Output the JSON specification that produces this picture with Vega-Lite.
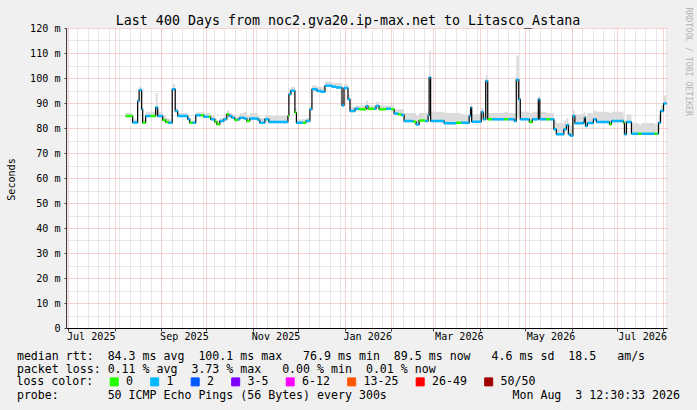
{
  "$schema": "https://vega.github.io/schema/vega-lite/v6.json",
  "width": 601,
  "height": 300,
  "autosize": {"type": "none"},
  "padding": {"left": 66, "top": 28, "right": 30, "bottom": 82},
  "background": "#f0f0f0",
  "data": {
    "format": {"parse": {"date": "date"}},
    "values": [
      {"date": "2025-08-08T05:00", "median": 84.8, "lo": 84.3, "hi": 86.0, "loss": "0"},
      {"date": "2025-08-12T21:00", "median": 82.2, "lo": 81.7, "hi": 83.5, "loss": "1"},
      {"date": "2025-08-16T05:00", "median": 90.8, "lo": 90.3, "hi": 92.0, "loss": "1"},
      {"date": "2025-08-17T05:00", "median": 95.2, "lo": 94.7, "hi": 96.5, "loss": "1"},
      {"date": "2025-08-18T21:00", "median": 87.5, "lo": 86.5, "hi": 89.0, "loss": "1"},
      {"date": "2025-08-19T13:00", "median": 82.1, "lo": 81.6, "hi": 83.5, "loss": "0"},
      {"date": "2025-08-21T13:00", "median": 84.8, "lo": 84.3, "hi": 86.5, "loss": "1"},
      {"date": "2025-08-24T21:00", "median": 84.8, "lo": 84.3, "hi": 86.5, "loss": "0"},
      {"date": "2025-08-28T05:00", "median": 88.2, "lo": 85.0, "hi": 94.0, "loss": "1"},
      {"date": "2025-08-29T13:00", "median": 84.8, "lo": 84.3, "hi": 86.5, "loss": "1"},
      {"date": "2025-09-01T21:00", "median": 83.2, "lo": 82.7, "hi": 85.0, "loss": "0"},
      {"date": "2025-09-03T21:00", "median": 82.4, "lo": 81.9, "hi": 84.0, "loss": "0"},
      {"date": "2025-09-05T21:00", "median": 82.1, "lo": 81.6, "hi": 83.5, "loss": "1"},
      {"date": "2025-09-08T05:00", "median": 95.5, "lo": 95.0, "hi": 97.5, "loss": "1"},
      {"date": "2025-09-10T05:00", "median": 86.8, "lo": 86.0, "hi": 88.0, "loss": "1"},
      {"date": "2025-09-11T21:00", "median": 84.8, "lo": 84.3, "hi": 86.0, "loss": "1"},
      {"date": "2025-09-18T13:00", "median": 83.5, "lo": 83.0, "hi": 84.5, "loss": "1"},
      {"date": "2025-09-19T21:00", "median": 82.1, "lo": 81.6, "hi": 83.0, "loss": "0"},
      {"date": "2025-09-21T21:00", "median": 82.1, "lo": 81.6, "hi": 83.0, "loss": "1"},
      {"date": "2025-09-23T21:00", "median": 85.1, "lo": 84.6, "hi": 86.3, "loss": "1"},
      {"date": "2025-09-27T05:00", "median": 85.1, "lo": 84.6, "hi": 86.3, "loss": "0"},
      {"date": "2025-09-29T05:00", "median": 84.5, "lo": 84.0, "hi": 86.0, "loss": "1"},
      {"date": "2025-10-02T13:00", "median": 84.5, "lo": 84.0, "hi": 86.0, "loss": "0"},
      {"date": "2025-10-03T21:00", "median": 83.5, "lo": 83.0, "hi": 85.0, "loss": "1"},
      {"date": "2025-10-06T13:00", "median": 82.5, "lo": 82.0, "hi": 84.0, "loss": "0"},
      {"date": "2025-10-07T21:00", "median": 81.5, "lo": 81.0, "hi": 83.0, "loss": "0"},
      {"date": "2025-10-09T21:00", "median": 82.8, "lo": 82.3, "hi": 84.0, "loss": "1"},
      {"date": "2025-10-12T13:00", "median": 83.5, "lo": 83.0, "hi": 85.5, "loss": "1"},
      {"date": "2025-10-14T13:00", "median": 85.5, "lo": 85.0, "hi": 87.0, "loss": "0"},
      {"date": "2025-10-15T21:00", "median": 84.8, "lo": 84.3, "hi": 86.0, "loss": "1"},
      {"date": "2025-10-17T21:00", "median": 84.1, "lo": 83.6, "hi": 85.5, "loss": "1"},
      {"date": "2025-10-19T21:00", "median": 83.2, "lo": 82.7, "hi": 84.5, "loss": "0"},
      {"date": "2025-10-21T21:00", "median": 83.5, "lo": 83.0, "hi": 85.0, "loss": "1"},
      {"date": "2025-10-23T05:00", "median": 84.1, "lo": 83.6, "hi": 86.0, "loss": "1"},
      {"date": "2025-10-25T21:00", "median": 83.8, "lo": 83.3, "hi": 86.5, "loss": "1"},
      {"date": "2025-10-27T21:00", "median": 82.8, "lo": 82.3, "hi": 85.0, "loss": "0"},
      {"date": "2025-10-29T21:00", "median": 83.8, "lo": 83.3, "hi": 86.0, "loss": "1"},
      {"date": "2025-11-04T05:00", "median": 83.2, "lo": 82.7, "hi": 85.0, "loss": "1"},
      {"date": "2025-11-05T13:00", "median": 82.1, "lo": 81.6, "hi": 84.0, "loss": "1"},
      {"date": "2025-11-08T21:00", "median": 83.5, "lo": 83.0, "hi": 85.0, "loss": "1"},
      {"date": "2025-11-11T13:00", "median": 82.4, "lo": 81.9, "hi": 84.8, "loss": "1"},
      {"date": "2025-11-24T05:00", "median": 84.8, "lo": 84.3, "hi": 86.5, "loss": "0"},
      {"date": "2025-11-24T21:00", "median": 93.5, "lo": 93.0, "hi": 95.5, "loss": "1"},
      {"date": "2025-11-26T05:00", "median": 94.9, "lo": 94.4, "hi": 96.5, "loss": "1"},
      {"date": "2025-11-28T21:00", "median": 86.2, "lo": 85.7, "hi": 88.0, "loss": "0"},
      {"date": "2025-11-29T21:00", "median": 82.1, "lo": 81.6, "hi": 83.5, "loss": "1"},
      {"date": "2025-12-04T05:00", "median": 82.1, "lo": 81.6, "hi": 83.5, "loss": "0"},
      {"date": "2025-12-06T05:00", "median": 82.8, "lo": 82.3, "hi": 84.0, "loss": "1"},
      {"date": "2025-12-08T21:00", "median": 87.5, "lo": 87.0, "hi": 89.0, "loss": "1"},
      {"date": "2025-12-10T05:00", "median": 95.5, "lo": 95.0, "hi": 97.0, "loss": "1"},
      {"date": "2025-12-13T13:00", "median": 94.8, "lo": 94.3, "hi": 96.5, "loss": "1"},
      {"date": "2025-12-16T05:00", "median": 94.5, "lo": 94.0, "hi": 96.5, "loss": "1"},
      {"date": "2025-12-18T21:00", "median": 96.9, "lo": 96.4, "hi": 98.5, "loss": "1"},
      {"date": "2025-12-23T13:00", "median": 96.5, "lo": 96.0, "hi": 98.0, "loss": "1"},
      {"date": "2025-12-26T05:00", "median": 96.2, "lo": 95.7, "hi": 98.0, "loss": "1"},
      {"date": "2025-12-30T05:00", "median": 89.0, "lo": 88.5, "hi": 91.0, "loss": "1"},
      {"date": "2025-12-31T13:00", "median": 96.0, "lo": 95.5, "hi": 97.5, "loss": "1"},
      {"date": "2026-01-03T05:00", "median": 91.5, "lo": 91.0, "hi": 93.0, "loss": "1"},
      {"date": "2026-01-04T13:00", "median": 86.8, "lo": 86.3, "hi": 88.5, "loss": "1"},
      {"date": "2026-01-07T21:00", "median": 87.7, "lo": 87.2, "hi": 89.0, "loss": "1"},
      {"date": "2026-01-10T13:00", "median": 87.5, "lo": 87.0, "hi": 89.0, "loss": "0"},
      {"date": "2026-01-15T05:00", "median": 88.7, "lo": 88.2, "hi": 91.0, "loss": "1"},
      {"date": "2026-01-16T13:00", "median": 87.7, "lo": 87.2, "hi": 89.0, "loss": "0"},
      {"date": "2026-01-20T13:00", "median": 87.7, "lo": 87.2, "hi": 89.0, "loss": "1"},
      {"date": "2026-01-21T21:00", "median": 88.8, "lo": 88.3, "hi": 90.5, "loss": "1"},
      {"date": "2026-01-23T21:00", "median": 87.5, "lo": 87.0, "hi": 89.0, "loss": "0"},
      {"date": "2026-01-28T13:00", "median": 87.7, "lo": 87.2, "hi": 89.0, "loss": "1"},
      {"date": "2026-01-31T21:00", "median": 87.5, "lo": 87.0, "hi": 89.0, "loss": "0"},
      {"date": "2026-02-02T21:00", "median": 85.8, "lo": 85.3, "hi": 87.5, "loss": "1"},
      {"date": "2026-02-05T13:00", "median": 85.5, "lo": 85.0, "hi": 87.5, "loss": "0"},
      {"date": "2026-02-07T13:00", "median": 85.2, "lo": 84.7, "hi": 87.5, "loss": "1"},
      {"date": "2026-02-09T13:00", "median": 82.8, "lo": 82.3, "hi": 86.0, "loss": "1"},
      {"date": "2026-02-15T13:00", "median": 82.5, "lo": 82.0, "hi": 86.0, "loss": "0"},
      {"date": "2026-02-17T13:00", "median": 81.4, "lo": 80.9, "hi": 85.0, "loss": "1"},
      {"date": "2026-02-19T13:00", "median": 83.0, "lo": 82.5, "hi": 86.0, "loss": "0"},
      {"date": "2026-02-23T13:00", "median": 82.8, "lo": 82.3, "hi": 86.0, "loss": "1"},
      {"date": "2026-02-25T13:00", "median": 85.0, "lo": 84.5, "hi": 87.0, "loss": "1"},
      {"date": "2026-02-26T05:00", "median": 100.2, "lo": 86.0, "hi": 110.9, "loss": "1"},
      {"date": "2026-02-27T05:00", "median": 82.8, "lo": 82.3, "hi": 86.5, "loss": "1"},
      {"date": "2026-03-08T05:00", "median": 81.9, "lo": 81.4, "hi": 86.0, "loss": "1"},
      {"date": "2026-03-16T05:00", "median": 82.1, "lo": 81.6, "hi": 86.0, "loss": "0"},
      {"date": "2026-03-19T13:00", "median": 82.1, "lo": 81.6, "hi": 85.5, "loss": "1"},
      {"date": "2026-03-24T21:00", "median": 84.8, "lo": 84.3, "hi": 87.0, "loss": "1"},
      {"date": "2026-03-25T21:00", "median": 88.2, "lo": 84.0, "hi": 90.0, "loss": "1"},
      {"date": "2026-03-26T13:00", "median": 82.5, "lo": 82.0, "hi": 85.5, "loss": "1"},
      {"date": "2026-04-01T21:00", "median": 86.4, "lo": 85.9, "hi": 88.0, "loss": "1"},
      {"date": "2026-04-03T05:00", "median": 83.5, "lo": 83.0, "hi": 86.0, "loss": "1"},
      {"date": "2026-04-04T21:00", "median": 98.8, "lo": 84.0, "hi": 101.0, "loss": "1"},
      {"date": "2026-04-06T05:00", "median": 83.5, "lo": 83.0, "hi": 86.0, "loss": "0"},
      {"date": "2026-04-09T05:00", "median": 83.5, "lo": 83.0, "hi": 86.0, "loss": "1"},
      {"date": "2026-04-17T05:00", "median": 83.5, "lo": 83.0, "hi": 86.5, "loss": "0"},
      {"date": "2026-04-19T21:00", "median": 83.5, "lo": 83.0, "hi": 86.0, "loss": "1"},
      {"date": "2026-04-23T21:00", "median": 82.8, "lo": 82.3, "hi": 86.0, "loss": "1"},
      {"date": "2026-04-25T05:00", "median": 99.3, "lo": 84.0, "hi": 109.0, "loss": "1"},
      {"date": "2026-04-26T21:00", "median": 91.5, "lo": 85.0, "hi": 93.5, "loss": "1"},
      {"date": "2026-04-27T21:00", "median": 83.5, "lo": 83.0, "hi": 86.5, "loss": "1"},
      {"date": "2026-05-03T21:00", "median": 82.4, "lo": 81.9, "hi": 86.0, "loss": "0"},
      {"date": "2026-05-05T21:00", "median": 83.5, "lo": 83.0, "hi": 86.5, "loss": "1"},
      {"date": "2026-05-09T21:00", "median": 91.5, "lo": 84.0, "hi": 93.0, "loss": "1"},
      {"date": "2026-05-10T21:00", "median": 83.5, "lo": 83.0, "hi": 86.5, "loss": "1"},
      {"date": "2026-05-15T05:00", "median": 83.5, "lo": 83.0, "hi": 86.0, "loss": "0"},
      {"date": "2026-05-17T21:00", "median": 83.5, "lo": 83.0, "hi": 86.0, "loss": "1"},
      {"date": "2026-05-20T05:00", "median": 79.5, "lo": 79.0, "hi": 83.0, "loss": "1"},
      {"date": "2026-05-21T21:00", "median": 77.5, "lo": 77.0, "hi": 82.0, "loss": "1"},
      {"date": "2026-05-26T21:00", "median": 79.5, "lo": 79.0, "hi": 83.0, "loss": "1"},
      {"date": "2026-05-28T13:00", "median": 81.1, "lo": 80.6, "hi": 84.0, "loss": "1"},
      {"date": "2026-05-29T21:00", "median": 77.5, "lo": 77.0, "hi": 82.0, "loss": "1"},
      {"date": "2026-05-31T05:00", "median": 76.9, "lo": 76.4, "hi": 81.0, "loss": "1"},
      {"date": "2026-06-01T21:00", "median": 84.8, "lo": 84.3, "hi": 87.0, "loss": "1"},
      {"date": "2026-06-03T05:00", "median": 81.9, "lo": 81.4, "hi": 85.5, "loss": "1"},
      {"date": "2026-06-08T21:00", "median": 82.4, "lo": 81.9, "hi": 86.0, "loss": "1"},
      {"date": "2026-06-09T13:00", "median": 84.1, "lo": 83.6, "hi": 86.5, "loss": "1"},
      {"date": "2026-06-10T05:00", "median": 80.8, "lo": 80.3, "hi": 85.0, "loss": "1"},
      {"date": "2026-06-11T13:00", "median": 82.0, "lo": 81.5, "hi": 86.0, "loss": "1"},
      {"date": "2026-06-15T13:00", "median": 83.5, "lo": 83.0, "hi": 87.0, "loss": "1"},
      {"date": "2026-06-17T13:00", "median": 82.4, "lo": 81.9, "hi": 86.5, "loss": "1"},
      {"date": "2026-06-26T05:00", "median": 81.5, "lo": 81.0, "hi": 86.0, "loss": "0"},
      {"date": "2026-06-27T13:00", "median": 82.8, "lo": 82.3, "hi": 86.5, "loss": "1"},
      {"date": "2026-07-05T13:00", "median": 82.1, "lo": 81.6, "hi": 85.0, "loss": "0"},
      {"date": "2026-07-06T05:00", "median": 77.5, "lo": 77.0, "hi": 83.0, "loss": "1"},
      {"date": "2026-07-07T13:00", "median": 82.4, "lo": 81.9, "hi": 85.5, "loss": "1"},
      {"date": "2026-07-10T21:00", "median": 77.7, "lo": 77.2, "hi": 82.0, "loss": "1"},
      {"date": "2026-07-15T13:00", "median": 77.7, "lo": 77.2, "hi": 81.5, "loss": "0"},
      {"date": "2026-07-17T13:00", "median": 77.7, "lo": 77.2, "hi": 82.0, "loss": "1"},
      {"date": "2026-07-26T05:00", "median": 77.7, "lo": 77.2, "hi": 81.5, "loss": "0"},
      {"date": "2026-07-28T05:00", "median": 77.7, "lo": 77.2, "hi": 82.5, "loss": "1"},
      {"date": "2026-07-28T21:00", "median": 82.1, "lo": 81.6, "hi": 85.0, "loss": "1"},
      {"date": "2026-07-30T05:00", "median": 86.8, "lo": 86.3, "hi": 89.0, "loss": "1"},
      {"date": "2026-08-01T05:00", "median": 89.8, "lo": 89.3, "hi": 93.0, "loss": "1"},
      {"date": "2026-08-03T05:00", "median": 89.8, "lo": 89.3, "hi": 93.0, "loss": "1"}
    ]
  },
  "resolve": {
    "scale": {"x": "shared", "y": "shared"},
    "axis": {"x": "independent", "y": "independent"}
  },
  "layer": [
    {
      "mark": {"type": "area", "interpolate": "step-after", "color": "#dcdcdc"},
      "encoding": {
        "x": {
          "field": "date",
          "type": "temporal",
          "scale": {"domain": [{"year": 2025, "month": 6, "date": 29, "hours": 12, "minutes": 30}, {"year": 2026, "month": 8, "date": 3, "hours": 12, "minutes": 30}]},
          "axis": {
            "orient": "bottom",
            "values": [
              {"year": 2025, "month": 7, "date": 16},
              {"year": 2025, "month": 9, "date": 16},
              {"year": 2025, "month": 11, "date": 16},
              {"year": 2026, "month": 1, "date": 16},
              {"year": 2026, "month": 3, "date": 18},
              {"year": 2026, "month": 5, "date": 18},
              {"year": 2026, "month": 7, "date": 18}
            ],
            "format": "%b %Y",
            "labelFontSize": 10.1,
            "labelPadding": 3,
            "labelFlush": false,
            "labelOverlap": false,
            "ticks": false,
            "tickSize": 0,
            "grid": false,
            "domain": true,
            "domainColor": "#000000",
            "title": [
              "median rtt:\u00a0\u00a084.3 ms avg\u00a0\u00a0100.1 ms max\u00a0\u00a0\u00a076.9 ms min\u00a0\u00a089.5 ms now\u00a0\u00a0\u00a04.6 ms sd\u00a0\u00a018.5\u00a0\u00a0\u00a0am/s",
              "packet loss: 0.11 % avg\u00a0\u00a03.73 % max\u00a0\u00a0\u00a00.00 % min\u00a0\u00a00.01 % now"
            ],
            "titleFontSize": 11.6,
            "titleAnchor": "start",
            "titleAlign": "left",
            "titleBaseline": "alphabetic",
            "titleX": -49.6,
            "titleY": 31,
            "titleLineHeight": 13.3
          }
        },
        "y": {
          "field": "lo",
          "type": "quantitative",
          "scale": {"domain": [0, 120], "nice": false},
          "axis": {
            "orient": "left",
            "values": [0, 10, 20, 30, 40, 50, 60, 70, 80, 90, 100, 110, 120],
            "labelExpr": "datum.value == 0 ? '0' : datum.value + ' m'",
            "labelFontSize": 10.1,
            "labelPadding": 4,
            "ticks": true,
            "tickSize": 2,
            "tickColor": "#404040",
            "domain": true,
            "domainColor": "#404040",
            "grid": true,
            "gridColor": "#f3a5a5",
            "gridDash": [1, 1],
            "title": "Seconds",
            "titleFontSize": 10.1,
            "titleAngle": 270,
            "titleAlign": "center",
            "titleBaseline": "alphabetic",
            "titleX": -51.5,
            "titleY": 151
          }
        },
        "y2": {"field": "hi"}
      }
    },
    {
      "mark": {"type": "line", "interpolate": "step-after", "color": "#000000", "strokeWidth": 1.2},
      "encoding": {
        "x": {
          "field": "date",
          "type": "temporal",
          "scale": {"domain": [{"year": 2025, "month": 6, "date": 29, "hours": 12, "minutes": 30}, {"year": 2026, "month": 8, "date": 3, "hours": 12, "minutes": 30}]},
          "axis": {
            "orient": "bottom",
            "tickCount": {"interval": "month", "step": 1},
            "labels": false,
            "ticks": true,
            "tickSize": 3,
            "tickColor": "#404040",
            "domain": false,
            "grid": true,
            "gridColor": "#f3a5a5",
            "gridDash": [1, 1],
            "title": "probe:\u00a0\u00a0\u00a0\u00a0\u00a0\u00a0\u00a050 ICMP Echo Pings (56 Bytes) every 300s\u00a0\u00a0\u00a0\u00a0\u00a0\u00a0\u00a0\u00a0\u00a0\u00a0\u00a0\u00a0\u00a0\u00a0\u00a0\u00a0\u00a0\u00a0Mon Aug\u00a0\u00a03 12:30:33 2026",
            "titleFontSize": 11.6,
            "titleAnchor": "start",
            "titleAlign": "left",
            "titleBaseline": "alphabetic",
            "titleX": -49.6,
            "titleY": 70.9
          }
        },
        "y": {
          "field": "median",
          "type": "quantitative",
          "scale": {"domain": [0, 120], "nice": false},
          "axis": {
            "orient": "right",
            "values": [5, 15, 25, 35, 45, 55, 65, 75, 85, 95, 105, 115],
            "labels": false,
            "ticks": false,
            "domain": false,
            "grid": true,
            "gridColor": "#d0d0d0",
            "gridDash": [1, 1],
            "title": "RRDTOOL / TOBI OETIKER",
            "titleFontSize": 8.2,
            "titleColor": "#b4b4b4",
            "titleAngle": 90,
            "titleAlign": "left",
            "titleBaseline": "alphabetic",
            "titleX": 18,
            "titleY": -21
          }
        }
      }
    },
    {
      "transform": [
        {"window": [{"op": "lead", "field": "date", "as": "next"}], "sort": [{"field": "date"}]},
        {"filter": "datum.next != null"}
      ],
      "mark": {"type": "rule", "strokeWidth": 2.5},
      "encoding": {
        "x": {
          "field": "date",
          "type": "temporal",
          "scale": {"domain": [{"year": 2025, "month": 6, "date": 29, "hours": 12, "minutes": 30}, {"year": 2026, "month": 8, "date": 3, "hours": 12, "minutes": 30}]},
          "axis": {
            "orient": "top",
            "values": [
              {"year": 2025, "month": 6, "date": 30}, {"year": 2025, "month": 7, "date": 7}, {"year": 2025, "month": 7, "date": 14},
              {"year": 2025, "month": 7, "date": 21}, {"year": 2025, "month": 7, "date": 28}, {"year": 2025, "month": 8, "date": 4},
              {"year": 2025, "month": 8, "date": 11}, {"year": 2025, "month": 8, "date": 18}, {"year": 2025, "month": 8, "date": 25},
              {"year": 2025, "month": 9, "date": 1}, {"year": 2025, "month": 9, "date": 8}, {"year": 2025, "month": 9, "date": 15},
              {"year": 2025, "month": 9, "date": 22}, {"year": 2025, "month": 9, "date": 29}, {"year": 2025, "month": 10, "date": 6},
              {"year": 2025, "month": 10, "date": 13}, {"year": 2025, "month": 10, "date": 20}, {"year": 2025, "month": 10, "date": 27},
              {"year": 2025, "month": 11, "date": 3}, {"year": 2025, "month": 11, "date": 10}, {"year": 2025, "month": 11, "date": 17},
              {"year": 2025, "month": 11, "date": 24}, {"year": 2025, "month": 12, "date": 1}, {"year": 2025, "month": 12, "date": 8},
              {"year": 2025, "month": 12, "date": 15}, {"year": 2025, "month": 12, "date": 22}, {"year": 2025, "month": 12, "date": 29},
              {"year": 2026, "month": 1, "date": 5}, {"year": 2026, "month": 1, "date": 12}, {"year": 2026, "month": 1, "date": 19},
              {"year": 2026, "month": 1, "date": 26}, {"year": 2026, "month": 2, "date": 2}, {"year": 2026, "month": 2, "date": 9},
              {"year": 2026, "month": 2, "date": 16}, {"year": 2026, "month": 2, "date": 23}, {"year": 2026, "month": 3, "date": 2},
              {"year": 2026, "month": 3, "date": 9}, {"year": 2026, "month": 3, "date": 16}, {"year": 2026, "month": 3, "date": 23},
              {"year": 2026, "month": 3, "date": 30}, {"year": 2026, "month": 4, "date": 6}, {"year": 2026, "month": 4, "date": 13},
              {"year": 2026, "month": 4, "date": 20}, {"year": 2026, "month": 4, "date": 27}, {"year": 2026, "month": 5, "date": 4},
              {"year": 2026, "month": 5, "date": 11}, {"year": 2026, "month": 5, "date": 18}, {"year": 2026, "month": 5, "date": 25},
              {"year": 2026, "month": 6, "date": 1}, {"year": 2026, "month": 6, "date": 8}, {"year": 2026, "month": 6, "date": 15},
              {"year": 2026, "month": 6, "date": 22}, {"year": 2026, "month": 6, "date": 29}, {"year": 2026, "month": 7, "date": 6},
              {"year": 2026, "month": 7, "date": 13}, {"year": 2026, "month": 7, "date": 20}, {"year": 2026, "month": 7, "date": 27},
              {"year": 2026, "month": 8, "date": 3}
            ],
            "labels": false,
            "ticks": false,
            "domain": false,
            "grid": true,
            "gridColor": "#d0d0d0",
            "gridDash": [1, 1],
            "title": "Last 400 Days from noc2.gva20.ip-max.net to Litasco_Astana",
            "titleFontSize": 13.3,
            "titleAlign": "center",
            "titleBaseline": "alphabetic",
            "titleX": 281.5,
            "titleY": -3.5
          }
        },
        "x2": {"field": "next"},
        "y": {
          "field": "median",
          "type": "quantitative",
          "scale": {"domain": [0, 120], "nice": false},
          "axis": null
        },
        "color": {
          "field": "loss",
          "type": "nominal",
          "scale": {
            "domain": ["0", "1", "2", "3-5", "6-12", "13-25", "26-49", "50/50"],
            "range": ["#26ff00", "#00b8ff", "#0059ff", "#7e00ff", "#ff00ff", "#ff5500", "#ff0000", "#a00000"]
          },
          "legend": {
            "orient": "none",
            "legendX": -49.6,
            "legendY": 348,
            "direction": "horizontal",
            "columns": 8,
            "title": "loss color:",
            "titleOrient": "left",
            "titleAnchor": "middle",
            "titleBaseline": "middle",
            "titlePadding": 15,
            "titleFontSize": 11.6,
            "labelFontSize": 11.6,
            "labelOffset": 6,
            "columnPadding": 14.5,
            "symbolType": "square",
            "symbolSize": 64,
            "padding": 0,
            "encode": {
              "symbols": {
                "update": {
                  "fill": {"scale": "color", "field": "value"},
                  "stroke": {"value": "#000000"},
                  "strokeWidth": {"value": 1},
                  "opacity": {"value": 1},
                  "fillOpacity": {"value": 1}
                }
              }
            }
          }
        }
      }
    }
  ],
  "config": {
    "font": "DejaVu Sans Mono",
    "view": {"fill": "#ffffff", "stroke": null},
    "axis": {
      "labelFont": "DejaVu Sans Mono",
      "titleFont": "DejaVu Sans Mono",
      "labelColor": "#000000",
      "titleColor": "#000000",
      "titleFontWeight": "normal"
    },
    "legend": {
      "labelFont": "DejaVu Sans Mono",
      "titleFont": "DejaVu Sans Mono",
      "labelColor": "#000000",
      "titleColor": "#000000",
      "titleFontWeight": "normal"
    }
  }
}
